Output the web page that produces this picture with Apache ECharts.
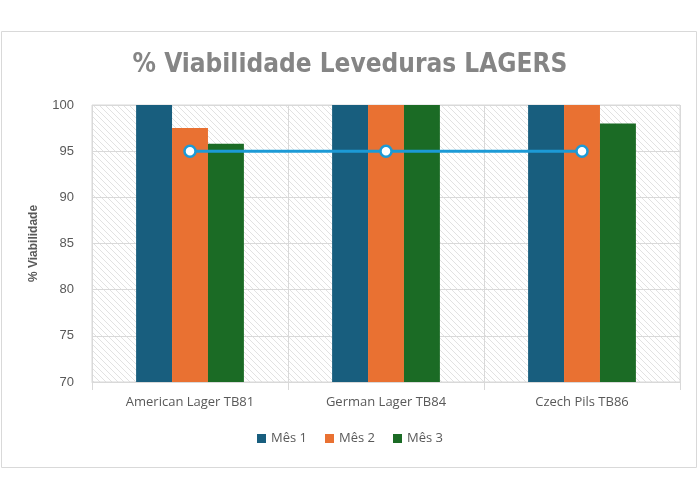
<!DOCTYPE html>
<html lang="pt-BR" style="height: 100%">
<head>
    <meta charset="utf-8">
</head>
<body style="height: 100%; margin: 0; background: #ffffff;">
    <div id="container" style="height: 100%"></div>
    <script type="text/javascript" src="https://cdn.jsdelivr.net/npm/echarts@6/dist/echarts.min.js"></script>
    <script type="text/javascript">
        var categorias = ['American Lager TB81', 'German Lager TB84', 'Czech Pils TB86'];
        var mes1 = [100, 100, 100];
        var mes2 = [97.5, 100, 100];
        var mes3 = [95.8, 100, 98];
        var referencia = [95, 95, 95];

        // fundo hachurado
        var hatch = document.createElement('canvas');
        hatch.width = 6;
        hatch.height = 6;
        var hctx = hatch.getContext('2d');
        hctx.fillStyle = '#ffffff';
        hctx.fillRect(0, 0, 6, 6);
        hctx.strokeStyle = '#e2e2e2';
        hctx.lineWidth = 1;
        hctx.beginPath();
        hctx.moveTo(0, 0); hctx.lineTo(6, 6);
        hctx.moveTo(-3, 3); hctx.lineTo(3, 9);
        hctx.moveTo(3, -3); hctx.lineTo(9, 3);
        hctx.stroke();

        var dom = document.getElementById('container');
        var myChart = echarts.init(dom, null, { renderer: 'canvas' });

        var option = {
            animation: false,
            graphic: [{
                type: 'rect',
                shape: { x: 1.5, y: 31.5, width: 695, height: 436 },
                style: { fill: 'none', stroke: '#d9d9d9', lineWidth: 1 },
                z: -10
            }],
            title: {
                text: '% Viabilidade Leveduras LAGERS',
                left: 'center',
                top: 47,
                textStyle: {
                    color: '#858585',
                    fontSize: 26,
                    fontWeight: 'bold',
                    fontFamily: '"Liberation Sans Narrow", "DejaVu Sans Condensed", sans-serif'
                }
            },
            legend: {
                bottom: 50,
                left: 'center',
                itemWidth: 9,
                itemHeight: 9,
                itemGap: 18,
                icon: 'rect',
                data: ['Mês 1', 'Mês 2', 'Mês 3'],
                textStyle: { color: '#595959', fontSize: 13, fontFamily: '"Open Sans", sans-serif' }
            },
            grid: {
                left: 92,
                right: 20,
                top: 105,
                bottom: 118,
                show: true,
                borderColor: '#d9d9d9',
                borderWidth: 1,
                backgroundColor: { image: hatch, repeat: 'repeat' }
            },
            xAxis: {
                type: 'category',
                data: categorias,
                axisLine: { lineStyle: { color: '#d9d9d9' } },
                axisTick: { show: true, length: 8, lineStyle: { color: '#d9d9d9' } },
                splitLine: { show: true, lineStyle: { color: '#d9d9d9' } },
                axisLabel: { color: '#595959', fontSize: 13, margin: 14, fontFamily: '"Open Sans", sans-serif' }
            },
            yAxis: {
                type: 'value',
                min: 70,
                max: 100,
                interval: 5,
                name: '% Viabilidade',
                nameLocation: 'middle',
                nameGap: 52,
                nameTextStyle: { color: '#595959', fontSize: 12, fontWeight: 'bold' },
                axisLine: { show: false },
                axisTick: { show: false },
                splitLine: { lineStyle: { color: '#d9d9d9' } },
                axisLabel: { color: '#595959', fontSize: 13, margin: 18 }
            },
            series: [{
                name: 'Mês 1',
                type: 'bar',
                data: mes1,
                barGap: '0%',
                barCategoryGap: '45%',
                itemStyle: { color: '#185e7e' }
            }, {
                name: 'Mês 2',
                type: 'bar',
                data: mes2,
                itemStyle: { color: '#e97132' }
            }, {
                name: 'Mês 3',
                type: 'bar',
                data: mes3,
                itemStyle: { color: '#1b6b25' }
            }, {
                name: 'Referência',
                type: 'line',
                data: referencia,
                symbol: 'circle',
                symbolSize: 11,
                z: 5,
                lineStyle: { color: '#1c9ad6', width: 3 },
                itemStyle: { color: '#ffffff', borderColor: '#1c9ad6', borderWidth: 2.5 }
            }]
        };

        myChart.setOption(option);
        window.addEventListener('resize', myChart.resize);
    </script>
</body>
</html>
